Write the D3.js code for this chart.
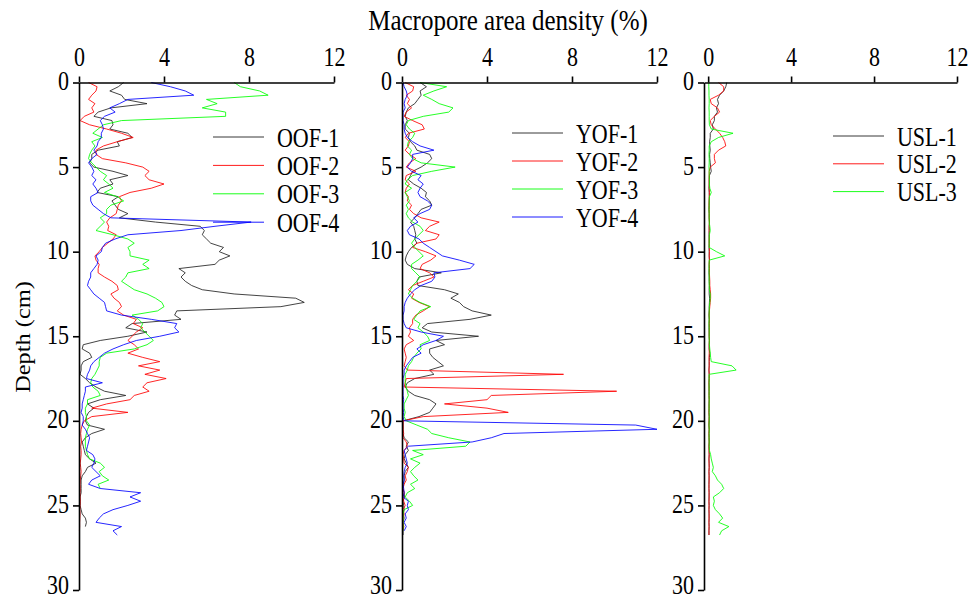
<!DOCTYPE html>
<html>
<head>
<meta charset="utf-8">
<script src="https://cdn.jsdelivr.net/npm/d3@7"></script>
<style>
  body { margin: 0; background: #fff; }
  svg { display: block; }
  text { font-family: "Liberation Serif", "Times New Roman", serif; fill: #000; }
</style>
</head>
<body>
<svg width="971" height="601"></svg>
<script>
// depth (cm), 0.25 cm steps
const depth = [
  0,0.25,0.5,0.75,1,1.25,1.5,1.75,
  2,2.25,2.5,2.75,3,3.25,3.5,3.75,
  4,4.25,4.5,4.75,5,5.25,5.5,5.75,
  6,6.25,6.5,6.75,7,7.25,7.5,7.75,
  8,8.25,8.5,8.75,9,9.25,9.5,9.75,
  10,10.25,10.5,10.75,11,11.25,11.5,11.75,
  12,12.25,12.5,12.75,13,13.25,13.5,13.75,
  14,14.25,14.5,14.75,15,15.25,15.5,15.75,
  16,16.25,16.5,16.75,17,17.25,17.5,17.75,
  18,18.25,18.5,18.75,19,19.25,19.5,19.75,
  20,20.25,20.5,20.75,21,21.25,21.5,21.75,
  22,22.25,22.5,22.75,23,23.25,23.5,23.75,
  24,24.25,24.5,24.75,25,25.25,25.5,25.75,
  26,26.25,26.5,26.75
];

const xTicks = [0, 4, 8, 12];
const yTicks = [0, 5, 10, 15, 20, 25, 30];

const oofNames = ["OOF-1", "OOF-2", "OOF-3", "OOF-4"];
const yofNames = ["YOF-1", "YOF-2", "YOF-3", "YOF-4"];
const uslNames = ["USL-1", "USL-2", "USL-3"];

// macropore area density (%)
const oof1 = [
  2.1,1.85,1.45,2.0,2.15,3.2,1.5,0.9,
  0.7,1.55,1.6,1.45,2.3,2.5,1.8,1.9,
  0.9,0.6,0.6,0.5,0.7,1.6,2.3,1.45,
  1.6,1.0,0.85,1.85,1.55,1.7,1.85,2.3,
  1.9,3.6,5.7,5.9,5.8,6.0,6.2,6.8,
  6.6,7.1,6.6,6.4,4.7,5.0,4.8,5.0,
  5.3,5.8,7.3,10.2,10.6,9.5,4.6,4.5,
  4.8,2.5,2.2,3.2,2.3,1.0,0.2,0.15,
  0.5,0.6,0.2,0.1,0.1,0.05,0.3,0.5,
  0.8,1.2,2.2,1.0,0.4,0.7,0.45,0.35,
  0.3,0.4,1.2,0.6,0.3,0.15,0.2,0.25,
  0.3,0.5,0.8,0.4,0.3,0.15,0.1,0.1,
  0.1,0.1,0.05,0.05,0.05,0.1,0.15,0.3,
  0.35,0.3
];
const oof2 = [
  0.45,0.85,0.8,0.6,0.45,0.75,0.6,0.7,
  0.25,0.05,0.5,1.3,2.0,2.55,1.8,1.15,
  0.8,0.8,1.1,2.2,3.0,3.3,3.1,3.3,
  4.0,3.4,2.4,1.9,2.0,1.85,1.8,1.75,
  1.45,1.3,1.4,1.35,1.75,1.6,1.35,1.1,
  0.95,0.75,0.8,0.95,0.9,0.9,1.2,1.55,
  1.8,1.85,1.5,1.65,1.9,2.0,1.8,2.1,
  2.7,2.55,3.0,2.7,2.5,2.3,2.6,2.8,
  2.3,3.0,3.8,2.8,3.8,3.1,4.1,3.2,
  3.0,3.3,2.6,2.4,1.3,0.6,2.3,0.6,
  0.25,0.15,0.1,0.08,0.1,0.12,0.08,0.1,
  0.1,0.08,0.06,0.08,0.1,0.08,0.06,0.05,
  0.06,0.05,0.05,0.06,0.05,0.04,0.05,0.04,
  0.03,0.03,0.02
];
const oof3 = [
  7.3,7.6,8.5,8.9,6.0,6.5,5.8,6.9,
  6.9,2.0,1.15,0.9,0.65,1.1,0.6,0.75,
  0.6,0.5,0.45,0.6,0.8,1.0,1.3,1.15,
  1.4,1.6,1.2,1.8,2.1,1.5,1.3,1.3,
  1.0,1.2,1.0,0.8,1.6,2.3,2.6,2.3,
  2.4,2.4,3.3,3.0,3.3,2.3,2.2,2.0,
  2.3,2.6,3.2,3.6,3.9,4.0,3.7,2.5,
  2.8,3.0,2.9,3.1,3.3,3.5,3.2,2.6,
  1.3,1.0,0.95,0.95,0.85,0.75,0.6,0.55,
  0.65,0.9,1.0,0.4,0.4,0.3,0.3,0.35,
  0.35,0.5,0.4,0.35,0.3,0.3,0.3,0.35,
  0.4,0.5,1.0,1.2,0.95,1.1,1.4,0.9,
  1.0
];
const oof4 = [
  3.4,4.3,5.0,5.4,2.3,1.9,1.45,1.7,
  1.2,1.0,1.1,1.15,1.05,1.05,0.9,0.85,
  0.7,0.85,0.6,0.45,0.6,0.7,0.6,0.8,
  0.65,0.8,0.9,0.55,0.55,0.65,0.9,1.15,
  1.5,8.1,6.4,4.8,2.3,1.7,1.25,1.1,
  1.05,0.8,0.9,0.85,0.7,0.55,0.55,0.45,
  0.4,0.55,0.7,0.95,1.2,1.25,1.3,2.0,
  3.4,4.6,4.5,4.7,3.8,2.7,2.1,1.6,
  1.2,0.95,0.7,0.55,0.5,0.4,0.35,1.1,
  0.3,0.3,0.25,0.2,0.15,0.15,0.1,0.2,
  0.2,0.15,0.3,0.4,0.5,0.45,0.4,0.35,
  0.65,0.75,0.7,0.6,0.8,1.0,0.6,0.45,
  1.0,2.9,2.4,2.9,2.3,1.6,1.15,0.95,
  0.8,2.0,1.6,1.8
];

const yof1 = [
  0.85,1.15,0.85,0.9,0.75,0.6,0.3,0.2,
  0.15,0.25,0.15,0.15,0.35,0.3,0.4,0.6,
  0.7,1.3,1.4,1.2,0.9,0.5,0.4,0.3,
  0.55,0.9,1.15,1.1,1.3,1.4,0.9,0.75,
  0.6,0.4,0.55,0.6,0.65,0.6,0.7,0.45,
  0.3,0.2,0.15,0.25,0.6,1.85,0.8,0.7,
  0.75,2.0,2.65,2.3,2.7,2.9,3.3,4.2,
  3.2,1.2,0.95,1.4,3.6,1.6,2.0,1.3,
  1.3,1.45,1.7,1.95,1.3,1.5,0.6,0.25,
  0.15,0.3,0.6,1.3,1.6,1.45,1.3,0.8,
  0.05,0.05,0.05,0.05,0.1,0.3,0.2,0.3,
  0.15,0.1,0.2,0.3,0.15,0.1,0.1,0.08,
  0.05,0.1,0.12,0.05,0.08,0.1,0.06,0.1,
  0.05,0.08,0.05,0.05
];
const yof2 = [
  0.15,0.55,0.5,0.2,0.35,0.25,0.45,0.2,
  0.1,0.5,0.95,1.05,0.3,0.15,0.35,0.3,
  0.15,0.35,0.65,0.35,0.2,0.65,0.2,0.15,
  0.35,0.2,0.15,0.3,0.25,0.45,0.35,0.55,
  0.9,1.75,1.3,1.1,1.75,1.6,0.7,0.5,
  1.1,1.6,1.35,0.95,0.85,1.3,1.5,1.0,
  0.5,0.3,0.55,0.45,0.8,1.3,1.0,0.65,
  0.5,0.5,0.35,0.4,0.3,0.55,0.2,0.1,
  0.15,0.2,0.15,0.1,0.25,7.6,0.2,0.15,
  0.1,10.1,4.2,4.0,2.0,4.0,5.0,1.0,
  0.05,0.05,0.05,0.08,0.05,0.2,0.25,0.1,
  0.05,0.08,0.1,0.3,0.25,0.15,0.2,0.1,
  0.05,0.1,0.05,0.08,0.15,0.05,0.1,0.05,
  0.05,0.08,0.05
];
const yof3 = [
  0.85,2.1,1.5,1.0,1.4,1.75,2.4,2.2,
  1.0,0.3,0.2,0.35,0.6,0.5,0.3,0.25,
  0.45,0.35,0.5,0.9,2.5,1.4,0.5,0.25,
  0.15,0.45,0.15,0.25,0.35,0.2,0.3,0.2,
  0.3,0.5,0.85,1.0,0.8,0.6,0.45,0.6,
  0.8,1.0,0.75,0.45,0.45,0.65,0.85,0.7,
  0.5,0.4,0.3,0.5,0.85,1.35,0.85,0.7,
  0.55,0.85,0.75,1.0,1.2,1.3,0.85,0.9,
  0.7,0.55,0.45,0.3,0.25,0.15,0.15,0.15,
  0.2,0.25,0.3,0.2,0.1,0.1,0.15,0.1,
  0.2,0.7,1.2,1.4,2.2,3.2,3.0,0.5,
  1.0,0.4,0.85,0.6,0.4,0.55,0.75,0.4,
  0.6,0.25,0.15,0.35,0.5,0.1,0.05,0.05,
  0.05,0.05,0.05
];
const yof4 = [
  0.05,0.1,0.2,0.25,0.15,0.1,0.15,0.05,
  0.05,0.05,0.1,0.1,0.15,0.25,0.5,0.85,
  1.5,0.5,0.5,0.4,0.25,0.45,0.9,0.75,
  1.0,0.85,0.75,0.85,1.2,1.4,1.3,0.85,
  0.55,0.75,0.4,0.25,0.35,0.8,1.0,1.3,
  1.6,1.9,2.7,3.4,3.2,1.5,1.55,1.4,
  0.9,0.6,0.4,0.25,0.15,0.1,0.1,0.05,
  0.05,0.1,0.2,0.9,1.95,1.6,1.0,0.7,
  0.9,0.5,0.35,0.2,0.1,0.1,0.05,0.05,
  0.05,0.05,0.05,0.08,0.05,0.05,0.08,0.05,
  0.1,11.0,12.0,4.8,4.2,3.3,0.3,0.1,
  0.15,0.2,0.25,0.15,0.1,0.08,0.1,0.05,
  0.08,0.1,0.05,0.3,0.25,0.3,0.15,0.2,
  0.1,0.2,0.1
];

const usl1 = [
  0.9,0.85,0.75,0.55,0.45,0.5,0.4,0.45,
  0.3,0.3,0.2,0.25,0.1,0.1,0.07,0.08,
  0.1,0.07,0.08,0.1,0.12,0.15,0.06,0.05,
  0.05,0.04,0.05,0.06,0.05,0.05,0.04,0.05,
  0.05,0.06,0.05,0.05,0.04,0.05,0.05,0.04,
  0.05,0.05,0.06,0.05,0.05,0.04,0.05,0.05,
  0.06,0.05,0.05,0.07,0.06,0.05,0.05,0.04,
  0.05,0.05,0.04,0.05,0.05,0.06,0.05,0.05,
  0.08,0.06,0.05,0.05,0.04,0.05,0.05,0.04,
  0.05,0.04,0.05,0.05,0.04,0.05,0.04,0.05,
  0.05,0.04,0.05,0.04,0.05,0.05,0.04,0.05,
  0.05,0.04,0.05,0.05,0.04,0.05,0.04,0.04,
  0.04,0.05,0.04,0.04,0.05,0.04,0.04,0.05,
  0.04,0.05,0.04,0.04
];
const usl2 = [
  0.5,0.75,0.75,0.5,0.1,0.15,0.45,0.55,
  0.3,0.1,0.15,0.35,0.55,0.7,0.8,0.85,
  0.5,0.3,0.3,0.35,0.1,0.05,0.05,0.05,
  0.05,0.05,0.06,0.05,0.05,0.04,0.05,0.05,
  0.05,0.06,0.05,0.05,0.06,0.05,0.05,0.06,
  0.06,0.05,0.06,0.05,0.06,0.06,0.07,0.08,
  0.08,0.1,0.12,0.12,0.1,0.08,0.06,0.05,
  0.06,0.05,0.06,0.05,0.05,0.06,0.05,0.05,
  0.05,0.04,0.05,0.05,0.04,0.05,0.05,0.04,
  0.04,0.05,0.04,0.05,0.05,0.04,0.04,0.05,
  0.04,0.04,0.05,0.04,0.04,0.05,0.04,0.04,
  0.05,0.04,0.04,0.05,0.04,0.04,0.05,0.04,
  0.04,0.04,0.05,0.04,0.04,0.04,0.05,0.04,
  0.04,0.04,0.04,0.04
];
const usl3 = [
  0.03,0.03,0.04,0.04,0.05,0.05,0.04,0.05,
  0.05,0.05,0.06,0.15,1.2,0.5,0.15,0.05,
  0.05,0.04,0.05,0.05,0.04,0.05,0.05,0.06,
  0.06,0.08,0.15,0.06,0.05,0.05,0.04,0.05,
  0.05,0.05,0.08,0.1,0.06,0.05,0.05,0.05,
  0.4,0.8,0.05,0.05,0.04,0.05,0.05,0.05,
  0.05,0.06,0.1,0.1,0.08,0.06,0.05,0.05,
  0.05,0.04,0.05,0.05,0.05,0.05,0.06,0.08,
  0.1,0.12,0.15,1.15,1.35,0.05,0.04,0.05,
  0.04,0.05,0.04,0.05,0.05,0.04,0.05,0.05,
  0.05,0.04,0.05,0.05,0.04,0.05,0.05,0.06,
  0.12,0.15,0.2,0.25,0.2,0.35,0.45,0.65,
  0.75,0.55,0.25,0.3,0.25,0.35,0.55,0.7,
  0.5,1.0,0.65,0.55
];

const colors = ["#222222", "#ff0000", "#00ff00", "#0000ff"];
const fontSize = 22, stretch = 1.22;

const svg = d3.select("svg");

const y = d3.scaleLinear().domain([0, 30]).range([82.5, 590]);

const panels = [
  {left: 79, right: 334, xmin: 0, names: oofNames, series: [oof1, oof2, oof3, oof4], legX: 213, legY: 137, legStep: 28.4},
  {left: 402, right: 657, xmin: 0, names: yofNames, series: [yof1, yof2, yof3, yof4], legX: 512, legY: 133, legStep: 28},
  {left: 704, right: 957, xmin: -0.2, names: uslNames, series: [usl1, usl2, usl3], legX: 833, legY: 136, legStep: 27.8}
];

panels.forEach(p => {
  const x = d3.scaleLinear().domain([p.xmin, 12]).range([p.left, p.right]);
  const g = svg.append("g");

  const line = d3.line()
    .x(d => x(d[1]))
    .y(d => y(d[0]));

  p.series.forEach((s, i) => {
    g.append("path")
      .datum(s.map((v, j) => [depth[j], v]))
      .attr("fill", "none")
      .attr("stroke", colors[i])
      .attr("stroke-width", 0.85)
      .attr("stroke-linejoin", "round")
      .attr("d", line);
  });

  // top axis
  const xa = g.append("g")
    .attr("transform", `translate(0,${y(0)})`)
    .call(d3.axisTop(x).tickValues(xTicks).tickSize(6).tickSizeOuter(0));
  xa.selectAll("text")
    .attr("y", -13.8)
    .attr("transform", `scale(1,${stretch})`)
    .style("font-size", fontSize + "px");

  // left axis
  const ya = g.append("g")
    .attr("transform", `translate(${p.left},0)`)
    .call(d3.axisLeft(y).tickValues(yTicks).tickSize(6).tickSizeOuter(0));
  ya.selectAll("text")
    .attr("x", -10)
    .attr("dy", d => d === 30 ? "0.12em" : "0.26em")
    .attr("transform", `scale(1,${stretch})`)
    .style("font-size", fontSize + "px");

  g.selectAll(".domain, .tick line")
    .attr("stroke", "#000")
    .attr("stroke-width", 1.6);
  g.selectAll(".tick text").attr("fill", "#000").attr("font-family", null);

  // legend
  p.names.forEach((name, i) => {
    const ly = p.legY + i * p.legStep;
    g.append("line")
      .attr("x1", p.legX).attr("x2", p.legX + 51)
      .attr("y1", ly).attr("y2", ly)
      .attr("stroke", colors[i])
      .attr("stroke-width", 0.9);
    g.append("text")
      .attr("transform", `translate(${p.legX + 64},${ly + 9.5}) scale(1,${stretch})`)
      .style("font-size", fontSize + "px")
      .text(name);
  });
});

svg.append("text")
  .attr("transform", `translate(508,30) scale(1,${stretch})`)
  .attr("text-anchor", "middle")
  .style("font-size", "25px")
  .text("Macropore area density (%)");

svg.append("text")
  .attr("transform", `translate(30,337) rotate(-90) scale(${stretch},1)`)
  .attr("text-anchor", "middle")
  .style("font-size", "20px")
  .text("Depth (cm)");
</script>
</body>
</html>
